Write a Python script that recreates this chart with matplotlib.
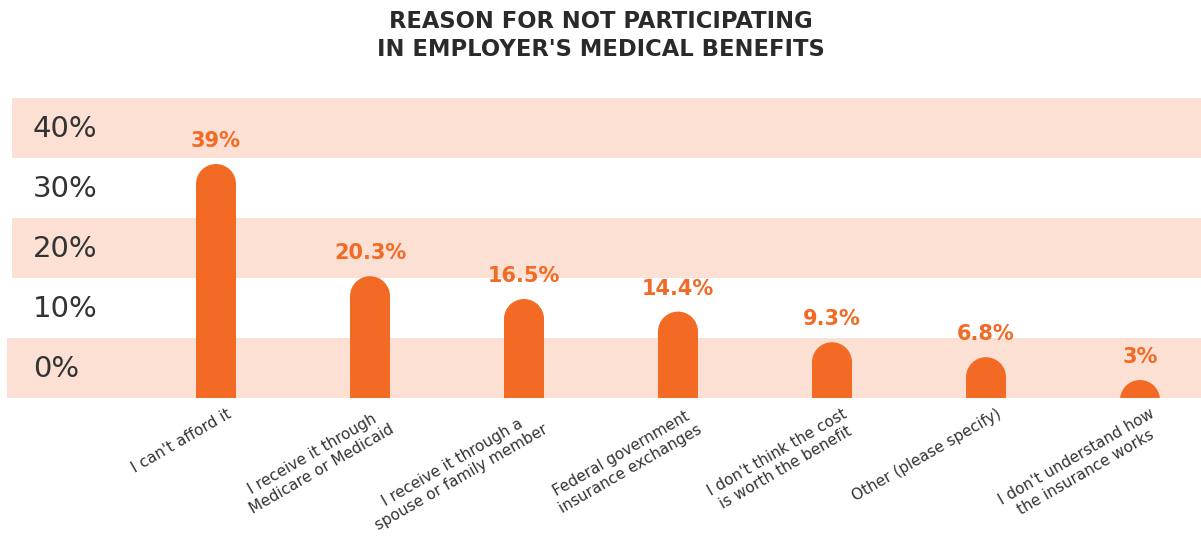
import matplotlib
matplotlib.use("Agg")
import matplotlib.pyplot as plt
from matplotlib.patches import Ellipse, Rectangle

categories = [
    "I can't afford it",
    "I receive it through\nMedicare or Medicaid",
    "I receive it through a\nspouse or family member",
    "Federal government\ninsurance exchanges",
    "I don't think the cost\nis worth the benefit",
    "Other (please specify)",
    "I don't understand how\nthe insurance works",
]
values = [39, 20.3, 16.5, 14.4, 9.3, 6.8, 3]
value_labels = ["39%", "20.3%", "16.5%", "14.4%", "9.3%", "6.8%", "3%"]
ytick_labels = ["0%", "10%", "20%", "30%", "40%"]

ORANGE = "#F26A24"
BAND = "#FCE0D4"
DARK = "#2a2a2a"
FONT = "DejaVu Sans"

W, H = 1201, 539
fig = plt.figure(figsize=(W / 100, H / 100), dpi=100)
ax = fig.add_axes([0, 141 / H, 1, 300 / H])

px_x = 154.0           # pixels per category
x0_px = 216.0          # pixel position of first bar center
xmin = -x0_px / px_x
xmax = (W - x0_px) / px_x
ax.set_xlim(xmin, xmax)
ax.set_ylim(0, 50)
ax.axis("off")

# bands
for lo, left_px in [(0, 7), (20, 12), (40, 12)]:
    lx = (left_px - x0_px) / px_x
    ax.add_patch(Rectangle((lx, lo), xmax - lx, 10, facecolor=BAND,
                           edgecolor="none", zorder=0))

# y labels
for i, lab in enumerate(ytick_labels):
    ax.text((33 - x0_px) / px_x, i * 10 + 4.8, lab, ha="left", va="center",
            fontsize=21, color="#333333", family=FONT, zorder=3)

# bars with rounded tops
bw = 40 / px_x
ry = 20 / 6.0  # vertical radius in data units (6 px per unit)
xs = list(range(len(values)))
rect_h = [max(v - ry, 0) for v in values]
ax.bar(xs, rect_h, width=bw, color=ORANGE, zorder=2, linewidth=0)
for x, v in zip(xs, values):
    ax.add_patch(Ellipse((x, v - ry), bw, 2 * ry, facecolor=ORANGE,
                         edgecolor="none", zorder=2))

for x, v, lab in zip(xs, values, value_labels):
    ax.text(x, v + 3.8, lab, ha="center", va="center", fontsize=15,
            fontweight="bold", color=ORANGE, family=FONT, zorder=3)

# category labels
for x, lab in zip(xs, categories):
    ax.text(x + 10 / px_x, -1.4, lab, ha="right", va="top", rotation=30,
            rotation_mode="anchor", multialignment="center", fontsize=11,
            color="#333333", family=FONT, clip_on=False)

fig.text(0.5, 1 - 22 / H, "REASON FOR NOT PARTICIPATING", ha="center",
         va="center", fontsize=16.3, fontweight="bold", color=DARK, family=FONT)
fig.text(0.5, 1 - 50 / H, "IN EMPLOYER'S MEDICAL BENEFITS", ha="center",
         va="center", fontsize=16.3, fontweight="bold", color=DARK, family=FONT)

fig.savefig("out.png", dpi=100)
